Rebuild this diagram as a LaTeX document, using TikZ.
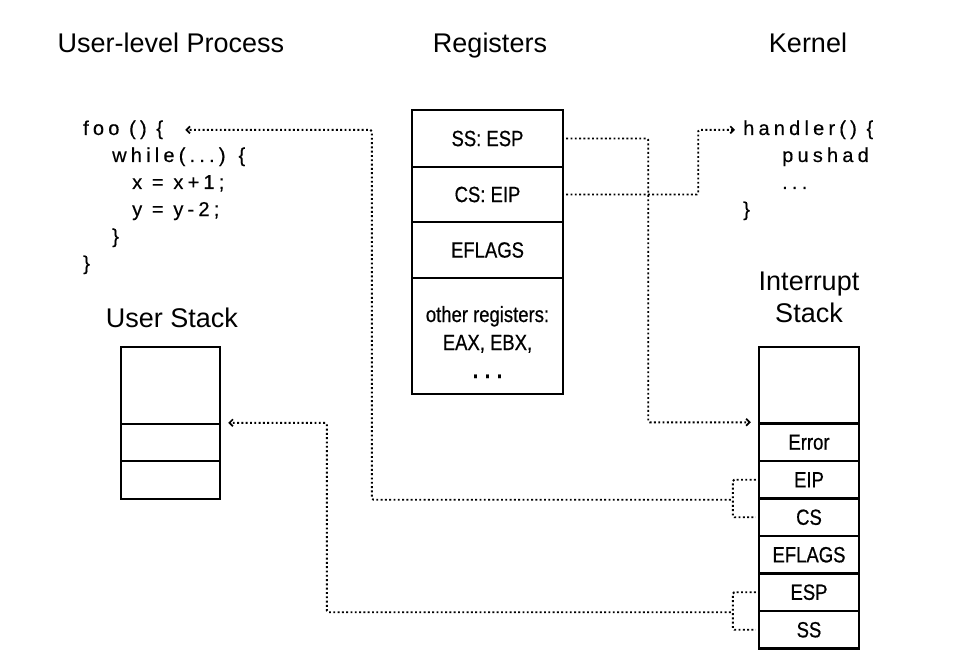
\documentclass[tikz,border=0pt]{standalone}
\usepackage{fontspec}
\setmainfont{Liberation Sans}
\newfontfamily\condfont[FakeStretch=0.84,FakeBold=0.6]{Liberation Sans}
\newfontfamily\codefont[LetterSpace=21,FakeBold=0.4]{Liberation Sans}
\usetikzlibrary{arrows.meta}

\tikzset{
  title/.style={font=\fontsize{27}{32}\selectfont, align=center, inner sep=0pt},
  code/.style={anchor=base west, inner sep=0pt, font=\codefont\fontsize{20}{27}\selectfont},
  cell/.style={draw, line width=2.4pt, inner sep=0pt, align=center,
    font=\condfont\fontsize{22}{28}\selectfont},
  regcell/.style={cell, minimum width=151pt},
  intcell/.style={cell, minimum width=100pt, minimum height=37.5pt},
  usrcell/.style={cell, minimum width=99pt},
  link/.style={line width=1.9pt, dash pattern=on 1.9pt off 2.4pt, rounded corners=1.5pt,
    shorten <=2pt},
  tip/.style={-{Straight Barb[length=3.5pt,width=7pt,line width=1.7pt]}}
}

\begin{document}
\begin{tikzpicture}[x=1pt,y=-1pt]
  \useasboundingbox (0,0) rectangle (954,658);

  % titles
  \node[title, anchor=base] (tuser) at (171,53) {User-level Process};
  \node[title, anchor=base] (treg) at (490,53) {Registers};
  \node[title, anchor=base] (tkern) at (808,53) {Kernel};
  \node[title, anchor=base] (tustack) at (172,327) {User Stack};
  \node[title] (tistack) at (809,297) {Interrupt\\Stack};

  % user code
  \node[code] (foo1) at (83,135) {foo () \{};
  \node[code] (foo2) at (112,162) {while(...) \{};
  \node[code] (foo3) at (132,189) {x = x+1;};
  \node[code] (foo4) at (132,216) {y = y-2;};
  \node[code] (foo5) at (112,243) {\}};
  \node[code] (foo6) at (83,270) {\}};

  % kernel code
  \node[code] (hnd1) at (743,135) {handler() \{};
  \node[code] (hnd2) at (782,162) {pushad};
  \node[code] (hnd3) at (782,189) {...};
  \node[code] (hnd4) at (743,216) {\}};

  % registers
  \node[regcell, minimum height=57pt] (ss) at (487.5,138.5) {SS: ESP};
  \node[regcell, minimum height=55pt] (cs) at (487.5,194.5) {CS: EIP};
  \node[regcell, minimum height=56pt] (efl) at (487.5,250) {EFLAGS};
  \node[regcell, minimum height=116pt] (oth) at (487.5,336)
    {\rule{0pt}{28pt}other registers:\\EAX, EBX,\\\textbf{. . .}};

  % user stack
  \node[usrcell, minimum height=77pt] (utop) at (170.5,385.5) {};
  \node[usrcell, minimum height=37pt] (umid) at (170.5,442.5) {};
  \node[usrcell, minimum height=38pt] (ubot) at (170.5,480) {};

  % interrupt stack
  \node[intcell, minimum height=76.5pt] (itop) at (809,385.25) {};
  \node[intcell] (ierr) at (809,442.25) {Error};
  \node[intcell] (ieip) at (809,479.75) {EIP};
  \node[intcell] (ics) at (809,517.25) {CS};
  \node[intcell] (iefl) at (809,554.75) {EFLAGS};
  \node[intcell] (iesp) at (809,592.25) {ESP};
  \node[intcell] (iss) at (809,629.75) {SS};

  % connectors
  \draw[link, tip, shorten >=7pt] (ss.east) -- ++(84,0) |- (ierr.north west);
  \draw[link, tip, shorten >=8pt] (cs.east) -- ++(134,0) |- (hnd1.west);
  \draw[link, shorten >=2pt] (ieip.west) -- ++(-25,0) |- (ics.west);
  \draw[link, tip] ([xshift=-25pt]ieip.south west) -- ++(-361,0) |- ([xshift=22pt]foo1.east);
  \draw[link, shorten >=2pt] (iesp.west) -- ++(-25,0) |- (iss.west);
  \draw[link, tip, shorten >=7pt] ([xshift=-25pt]iesp.south west) -- ++(-406,0) |- (umid.north east);
\end{tikzpicture}
\end{document}
